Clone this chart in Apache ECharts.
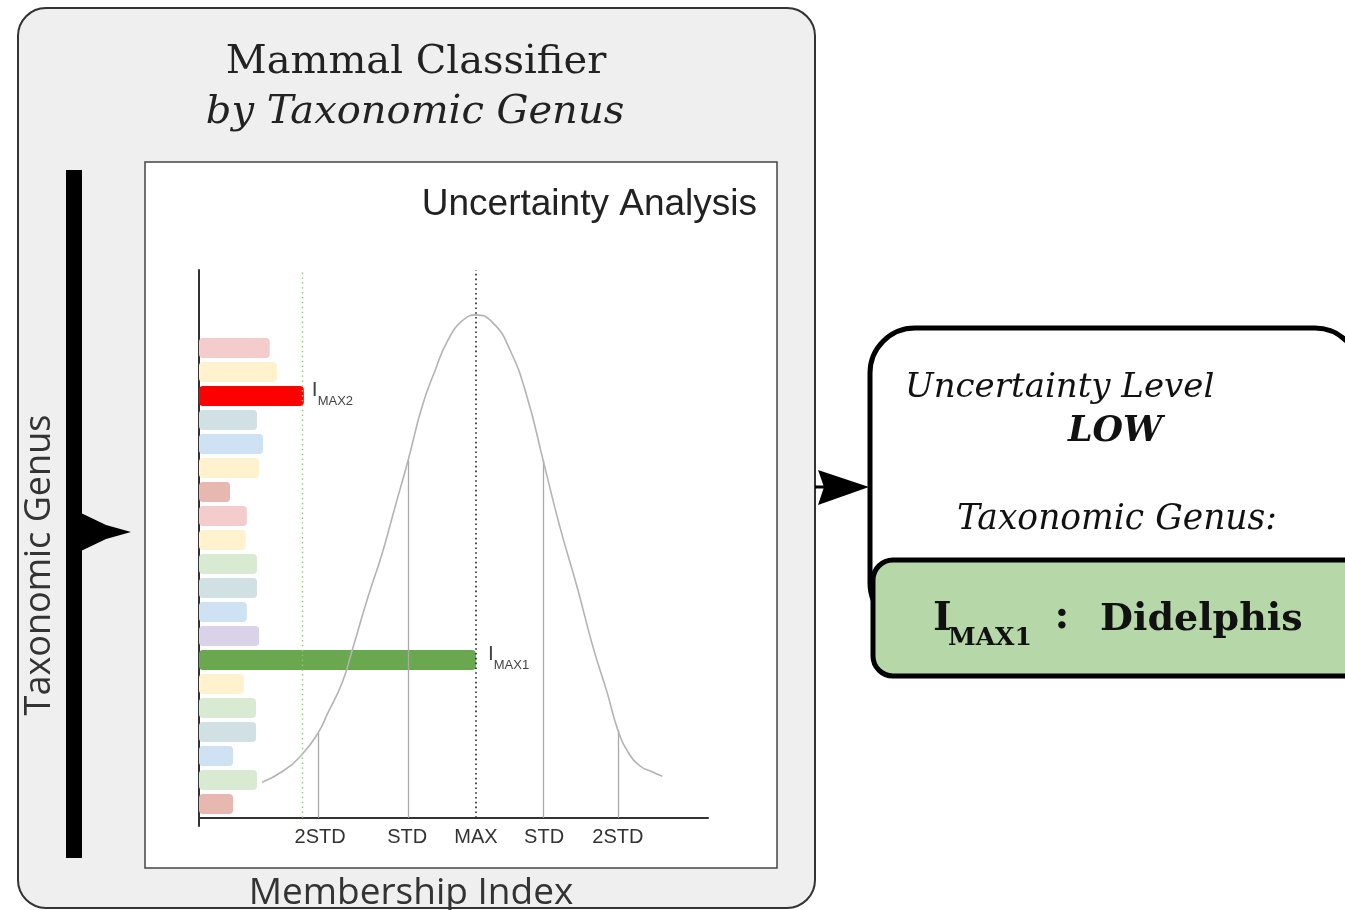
<!DOCTYPE html>
<html><head><meta charset="utf-8">
<script src="https://cdn.jsdelivr.net/npm/echarts@6.0.0/dist/echarts.min.js"></script>
<style>html,body{margin:0;padding:0;background:#fff;}#c{width:1345px;height:910px;}</style>
</head><body><div id="c"></div>
<script>
// ---- data ----
const genusIds = ['G01','G02','G03','G04','G05','G06','G07','G08','G09','G10','G11','G12','G13','G14','G15','G16','G17','G18','G19','G20'];
const membership = [13.9, 15.3, 20.6, 11.4, 12.6, 11.8, 6.1, 9.4, 9.2, 11.4, 11.4, 9.4, 11.8, 54.4, 8.8, 11.2, 11.2, 6.7, 11.4, 6.7];
const barColors = ['#f4cccc','#fff2cc','#ff0000','#d0e0e3','#cfe2f3','#fff2cc','#e6b8af','#f4cccc','#fff2cc','#d9ead3','#d0e0e3','#cfe2f3','#d9d2e9','#6aa84f','#fff2cc','#d9ead3','#d0e0e3','#cfe2f3','#d9ead3','#e6b8af'];
const barTags = ['','','MAX2','','','','','','','','','','','MAX1','','','','','',''];
const curveX = [12.4, 16.3, 20.2, 23.4, 25.3, 28.1, 30.1, 33.2, 36.0, 38.5, 41.1, 43.8, 46.4, 48.9, 51.7, 54.4, 57.8, 61.1, 64.4, 67.6, 70.9, 74.3, 77.4, 80.2, 82.3, 84.3, 86.6, 89.0, 91.0];
const curveY = [6.5, 8.4, 11.5, 15.5, 19.1, 24.6, 30.6, 40.3, 48.3, 56.7, 65.3, 75.0, 81.7, 87.2, 90.7, 91.8, 90.3, 85.4, 77.0, 65.3, 53.1, 42.1, 31.2, 22.8, 16.0, 12.0, 9.5, 8.4, 7.6];
const tickValues = [23.8, 40.9, 54.4, 67.8, 82.3];
const tickLabels = ['2STD','STD','MAX','STD','2STD'];
const stdLineX = [23.4, 41.1, 67.6, 82.3];
const stdLineTop = [15.5, 65.3, 65.3, 16.0];
const maxLineX = 54.4;
const max2LineX = 20.2;

// ---- chart ----
const chart = echarts.init(document.getElementById('c'));
const serif = '"DejaVu Serif", serif';
const sans = '"Liberation Sans", Arial, sans-serif';
const osans = '"Open Sans", sans-serif';

const markData = stdLineX.map((x,i)=>[{coord:[x,0]},{coord:[x,stdLineTop[i]]}]);
markData.push([{coord:[maxLineX,0],lineStyle:{color:'#222',type:[1.6,3.2],width:1.6}},{coord:[maxLineX,100]}]);
markData.push([{coord:[max2LineX,0],lineStyle:{color:'#93c47d',type:[1.4,3.5],width:1.4}},{coord:[max2LineX,100]}]);

const option = {
  animation:false,
  grid:[
    {left:199, top:336, width:509, height:480},
    {left:199, top:270, width:509, height:556}
  ],
  xAxis:[
    {gridIndex:0, type:'value', min:0, max:100, show:false},
    {gridIndex:1, type:'value', min:0, max:100,
     axisLine:{show:true, onZero:true, lineStyle:{color:'#333', width:2}},
     axisTick:{show:false}, splitLine:{show:false},
     axisLabel:{customValues:tickValues, margin:1, color:'#333', fontFamily:sans, fontSize:20,
       formatter:(v)=>{let b=0;tickValues.forEach((t,i)=>{if(Math.abs(t-v)<Math.abs(tickValues[b]-v))b=i;});return tickLabels[b];}}}
  ],
  yAxis:[
    {gridIndex:0, type:'category', data:genusIds, inverse:true, show:false},
    {gridIndex:1, type:'value', min:-1.5, max:100,
     axisLine:{show:true, onZero:false, lineStyle:{color:'#333', width:2}},
     axisTick:{show:false}, axisLabel:{show:false}, splitLine:{show:false}}
  ],
  series:[
    {type:'bar', xAxisIndex:0, yAxisIndex:0, barWidth:20, z:2,
     data: membership.map((v,i)=>({value:v, itemStyle:{color:barColors[i], borderRadius:4},
       label: barTags[i] ? {show:true, position:'right', distance: i===13?12:8, offset:[0,-6], formatter:'{i|I}{s|'+barTags[i]+'}',
         rich:{i:{fontFamily:sans, fontSize:21, color:'#444'}, s:{fontFamily:sans, fontSize:13, color:'#444', padding:[22,0,0,0]}}} : {show:false}}))
    },
    {type:'line', xAxisIndex:1, yAxisIndex:1, z:5, smooth:0.5, symbol:'none',
     lineStyle:{color:'#b3b3b3', width:1.6},
     data: curveX.map((x,i)=>[x,curveY[i]]),
     markLine:{silent:true, symbol:['none','none'], label:{show:false},
       lineStyle:{color:'#aaaaaa', type:'solid', width:1.3}, data:markData}
    }
  ],
  graphic:[
    {type:'rect', z:-10, shape:{x:18, y:8, width:797, height:900, r:28}, style:{fill:'#efefef', stroke:'#333', lineWidth:2}},
    {type:'rect', z:-9, shape:{x:145, y:162, width:632, height:706}, style:{fill:'#fff', stroke:'#444', lineWidth:1.5}},
    {type:'text', z:10, style:{text:'Mammal Classifier', x:416, y:63, textAlign:'center', textVerticalAlign:'middle', font:'40px '+serif, fill:'#222'}},
    {type:'text', z:10, style:{text:'by Taxonomic Genus', x:415, y:113, textAlign:'center', textVerticalAlign:'middle', font:'italic 40px '+serif, fill:'#222'}},
    {type:'text', z:10, style:{text:'Uncertainty Analysis', x:757, y:205, textAlign:'right', textVerticalAlign:'middle', font:'37px '+sans, fill:'#222'}},
    {type:'text', z:10, rotation:Math.PI/2, x:40, y:565, style:{text:'Taxonomic Genus', x:0, y:0, textAlign:'center', textVerticalAlign:'middle', font:'36px '+osans, fill:'#333'}},
    {type:'text', z:10, style:{text:'Membership Index', x:411, y:893, textAlign:'center', textVerticalAlign:'middle', font:'37px '+osans, fill:'#333'}},
    {type:'rect', z:5, shape:{x:66, y:170, width:16, height:688}, style:{fill:'#000'}},
    {type:'polygon', z:5, shape:{points:[[81,513],[106,525],[131,532],[106,539],[81,551]]}, style:{fill:'#000'}},
    {type:'line', z:5, shape:{x1:815, y1:487, x2:860, y2:487}, style:{stroke:'#000', lineWidth:3}},
    {type:'polygon', z:5, shape:{points:[[818,470],[869,487],[818,505],[824,487]]}, style:{fill:'#000'}},
    {type:'rect', z:6, shape:{x:870, y:328, width:490, height:300, r:45}, style:{fill:'#fff', stroke:'#000', lineWidth:5}},
    {type:'rect', z:7, shape:{x:873, y:560, width:500, height:116, r:20}, style:{fill:'#b6d7a8', stroke:'#000', lineWidth:5}},
    {type:'text', z:10, style:{text:'Uncertainty Level', x:905, y:388, textAlign:'left', textVerticalAlign:'middle', font:'italic 34px '+serif, fill:'#111'}},
    {type:'text', z:10, style:{text:'LOW', x:1068, y:432, textAlign:'left', textVerticalAlign:'middle', font:'italic bold 35px '+serif, fill:'#111'}},
    {type:'text', z:10, style:{text:'Taxonomic Genus:', x:957, y:520, textAlign:'left', textVerticalAlign:'middle', font:'italic 34.5px '+serif, fill:'#111'}},
    {type:'text', z:10, style:{text:'I', x:933, y:620, textAlign:'left', textVerticalAlign:'middle', font:'bold 40px '+serif, fill:'#111'}},
    {type:'text', z:10, style:{text:'MAX1', x:948, y:638, textAlign:'left', textVerticalAlign:'middle', font:'bold 25px '+serif, fill:'#111'}},
    {type:'text', z:10, style:{text:':', x:1062, y:618, textAlign:'center', textVerticalAlign:'middle', font:'bold 40px '+serif, fill:'#111'}},
    {type:'text', z:10, style:{text:'Didelphis', x:1100, y:620, textAlign:'left', textVerticalAlign:'middle', font:'bold 38px '+serif, fill:'#111'}}
  ]
};
chart.setOption(option);
</script></body></html>
